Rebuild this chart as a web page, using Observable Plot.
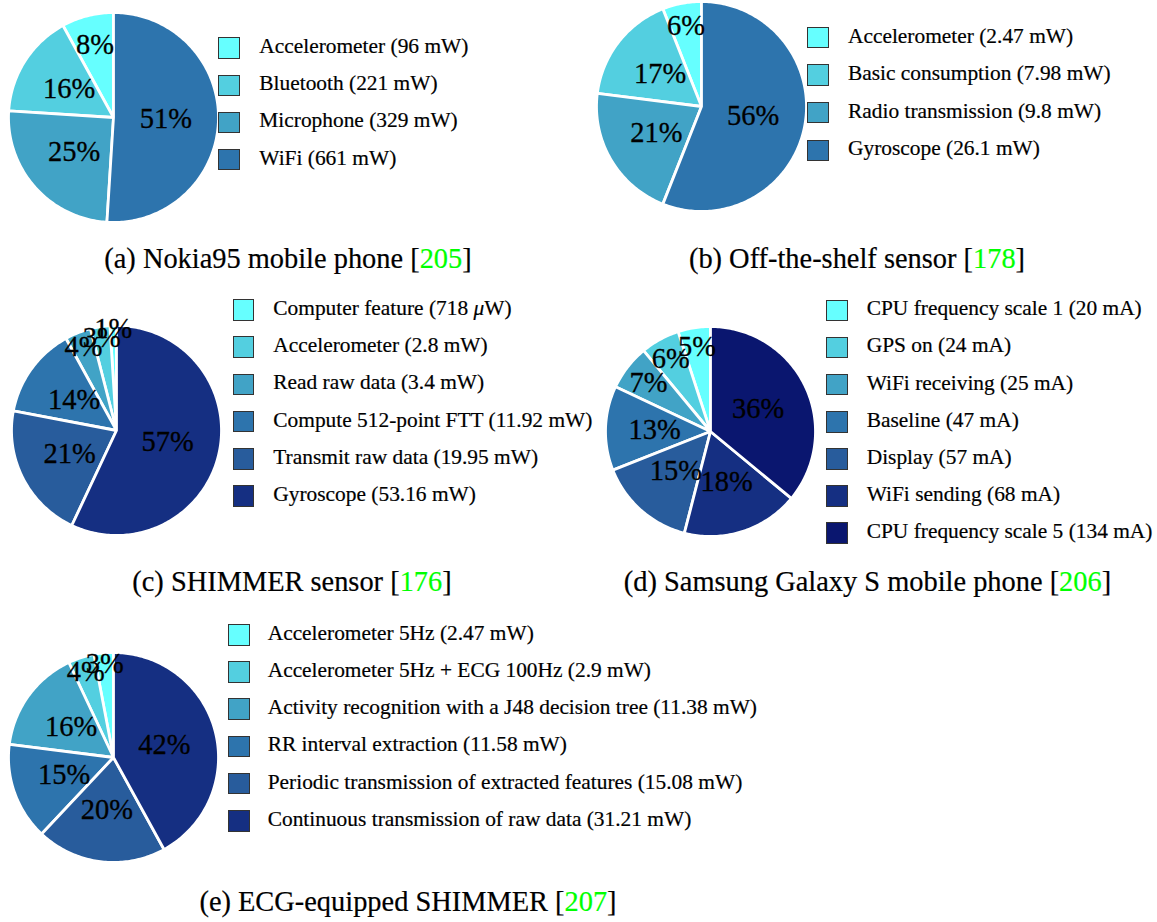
<!DOCTYPE html>
<html><head><meta charset="utf-8">
<script src="https://cdn.jsdelivr.net/npm/d3@7"></script>
<script src="https://cdn.jsdelivr.net/npm/@observablehq/plot@0.6"></script>
<style>
body{margin:0;background:#fff;}
#page{position:relative;width:1157px;height:922px;overflow:hidden;font-family:"Liberation Serif","Times New Roman",Times,serif;color:#000;}
.pie{position:absolute;overflow:visible;}
.pie text{font-family:"Liberation Serif","Times New Roman",Times,serif !important;}
.sw{position:absolute;width:21.5px;height:21.5px;box-sizing:border-box;border:1px solid #333;}
.lt{position:absolute;font-size:21.4px;line-height:21.5px;white-space:nowrap;-webkit-text-stroke:0.2px #000;}
.cap{position:absolute;width:700px;text-align:center;font-size:28.4px;line-height:28.4px;white-space:nowrap;-webkit-text-stroke:0.2px #000;}
.cap .ref{color:#00ff00;-webkit-text-stroke:0.2px #00ff00;}
</style></head><body><div id="page"></div>
<script>
// Colour ramp shared by all pies (lightest to darkest)
const palette = ["#66ffff","#53cfe0","#41a3c6","#2d74ad","#285c9c","#152f82","#0a166f"];

// (a) Nokia95 mobile phone
const aLabels = ["Accelerometer (96 mW)","Bluetooth (221 mW)","Microphone (329 mW)","WiFi (661 mW)"];
const aShares = [8,16,25,51];
const aCaption = ["(a) Nokia95 mobile phone [","205","]"];

// (b) Off-the-shelf sensor
const bLabels = ["Accelerometer (2.47 mW)","Basic consumption (7.98 mW)","Radio transmission (9.8 mW)","Gyroscope (26.1 mW)"];
const bShares = [6,17,21,56];
const bCaption = ["(b) Off-the-shelf sensor [","178","]"];

// (c) SHIMMER sensor
const cLabels = ["Computer feature (718 μW)","Accelerometer (2.8 mW)","Read raw data (3.4 mW)","Compute 512-point FTT (11.92 mW)","Transmit raw data (19.95 mW)","Gyroscope (53.16 mW)"];
const cShares = [1,3,4,14,21,57];
const cCaption = ["(c) SHIMMER sensor [","176","]"];

// (d) Samsung Galaxy S mobile phone
const dLabels = ["CPU frequency scale 1 (20 mA)","GPS on (24 mA)","WiFi receiving (25 mA)","Baseline (47 mA)","Display (57 mA)","WiFi sending (68 mA)","CPU frequency scale 5 (134 mA)"];
const dShares = [5,6,7,13,15,18,36];
const dCaption = ["(d) Samsung Galaxy S mobile phone [","206","]"];

// (e) ECG-equipped SHIMMER
const eLabels = ["Accelerometer 5Hz (2.47 mW)","Accelerometer 5Hz + ECG 100Hz (2.9 mW)","Activity recognition with a J48 decision tree (11.38 mW)","RR interval extraction (11.58 mW)","Periodic transmission of extracted features (15.08 mW)","Continuous transmission of raw data (31.21 mW)"];
const eShares = [3,4,16,15,20,42];
const eCaption = ["(e) ECG-equipped SHIMMER [","207","]"];

// Layout (pixels)
const R = 105, PAD = 20;
const layout = [
  {labels:aLabels, shares:aShares, caption:aCaption, cx:112.5, cy:117,   sqx:218.3, tx:259.3, row0:48.2,  step:37.1,  capc:288,   capb:269},
  {labels:bLabels, shares:bShares, caption:bCaption, cx:701,   cy:106,   sqx:807.3, tx:848,   row0:37.5,  step:37.6,  capc:857,   capb:269},
  {labels:cLabels, shares:cShares, caption:cCaption, cx:116.3, cy:430.3, sqx:232.7, tx:273.3, row0:310,   step:37.2,  capc:292,   capb:592},
  {labels:dLabels, shares:dShares, caption:dCaption, cx:710,   cy:431.3, sqx:826,   tx:866.7, row0:310.3, step:37.15, capc:867.5, capb:592},
  {labels:eLabels, shares:eShares, caption:eCaption, cx:112.5, cy:756.7, sqx:228.3, tx:267.7, row0:634.8, step:37.2,  capc:408,   capb:912}
];

const page = document.getElementById("page");
const FONT = "Liberation Serif, Times New Roman, Times, serif";

function pieData(shares, labels){
  const arcs = d3.pie().sort(null).startAngle(0).endAngle(-2*Math.PI)(shares);
  const pts = [], labs = [];
  arcs.forEach((a,i)=>{
    const a0 = a.startAngle, a1 = a.endAngle;
    const n = Math.max(2, Math.ceil(Math.abs(a1-a0)/(Math.PI/180)));
    pts.push({key:labels[i], x:0, y:0});
    for(let k=0;k<=n;k++){
      const t = a0 + (a1-a0)*k/n;
      pts.push({key:labels[i], x:Math.sin(t), y:Math.cos(t)});
    }
    const mid = (a0+a1)/2;
    const deg = Math.abs(a1-a0)*180/Math.PI;
    const d = Math.max(0.5, 1 - deg/100);
    labs.push({key:labels[i], text:shares[i]+"%", x:d*Math.sin(mid), y:d*Math.cos(mid)});
  });
  return {pts, labs};
}

layout.forEach(p=>{
  const colors = palette.slice(0, p.labels.length);
  const {pts, labs} = pieData(p.shares, p.labels);
  const size = 2*R + 2*PAD;
  const svg = Plot.plot({
    width:size, height:size, margin:0,
    style:"background:transparent;overflow:visible;font-family:" + FONT + ";",
    x:{domain:[-1,1], range:[PAD, PAD+2*R], axis:null},
    y:{domain:[-1,1], range:[PAD+2*R, PAD], axis:null},
    color:{domain:p.labels, range:colors},
    marks:[
      Plot.line(pts, {x:"x", y:"y", z:"key", fill:"key", stroke:"white", strokeWidth:2.8, strokeLinejoin:"round", curve:"linear-closed"}),
      Plot.text(labs, {x:"x", y:"y", text:"text", fontSize:28.5, fill:"black", stroke:"black", strokeWidth:0.3, fontFamily:FONT, textAnchor:"middle", lineAnchor:"middle"})
    ]
  });
  svg.classList.add("pie");
  svg.style.position = "absolute";
  svg.style.left = (p.cx - R - PAD) + "px";
  svg.style.top = (p.cy - R - PAD) + "px";
  page.appendChild(svg);

  // legend
  p.labels.forEach((lab,i)=>{
    const yc = p.row0 + i*p.step;
    const sw = document.createElement("div");
    sw.className = "sw";
    sw.style.left = p.sqx + "px";
    sw.style.top = (yc - 10.75) + "px";
    sw.style.background = colors[i];
    page.appendChild(sw);
    const t = document.createElement("div");
    t.className = "lt";
    t.style.left = p.tx + "px";
    t.style.top = (yc + 6 - 18) + "px";
    lab.split("μ").forEach((part,k)=>{
      if(k>0){ const it=document.createElement("i"); it.textContent="μ"; t.appendChild(it); }
      t.appendChild(document.createTextNode(part));
    });
    page.appendChild(t);
  });

  // caption
  const c = document.createElement("div");
  c.className = "cap";
  c.style.left = (p.capc - 350) + "px";
  c.style.top = (p.capb - 24) + "px";
  c.appendChild(document.createTextNode(p.caption[0]));
  const r = document.createElement("span"); r.className="ref"; r.textContent = p.caption[1];
  c.appendChild(r);
  c.appendChild(document.createTextNode(p.caption[2]));
  page.appendChild(c);
});
</script></body></html>
